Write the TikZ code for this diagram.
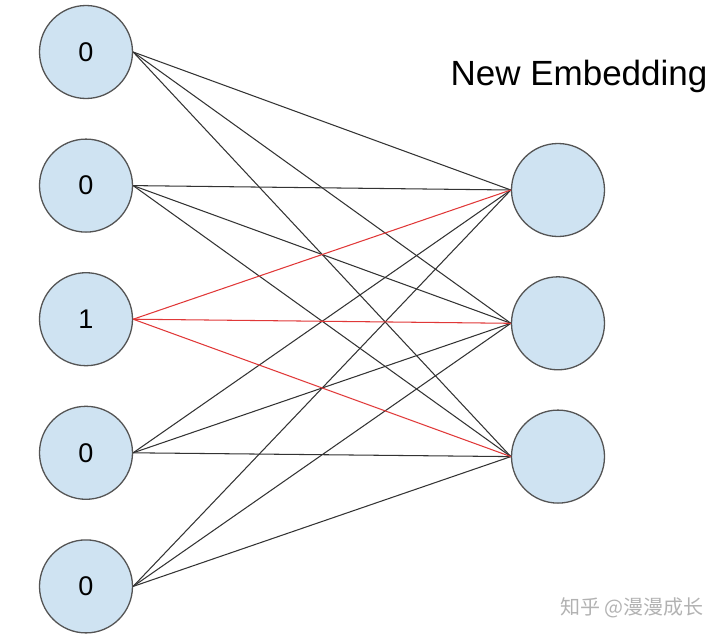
\documentclass[tikz,border=0pt]{standalone}
\usepackage{fontspec}
\setmainfont{Liberation Sans}
\newfontfamily\cjk{Noto Sans CJK SC}
\usetikzlibrary{positioning}
\definecolor{pastelblue}{rgb}{0.81,0.89,0.95}
\definecolor{bordegris}{rgb}{0.33,0.33,0.33}
\definecolor{rojo}{rgb}{0.88,0.22,0.22}
\tikzset{
  neurona/.style={
    circle,
    draw=bordegris,
    line width=1.3pt,
    fill=pastelblue,
    minimum size=93pt,
    inner sep=0pt,
    font=\fontsize{27}{30}\selectfont
  },
  enlace/.style={
    line width=1.05pt,
    black!80
  },
  activo/.style={
    line width=1.05pt,
    rojo
  }
}

\begin{document}
\begin{tikzpicture}[x=1pt,y=-1pt,node distance=39.3pt]
\useasboundingbox (0,0) rectangle (720,637);
% entrada one-hot
\node[neurona] (a) at (86,52) {0};
\node[neurona,below=of a] (b) {0};
\node[neurona,below=of b] (c) {1};
\node[neurona,below=of c] (d) {0};
\node[neurona,below=of d] (e) {0};
% embedding
\node[neurona] (p) at (558,190) {};
\node[neurona,below=39pt of p] (q) {};
\node[neurona,below=39pt of q] (r) {};
\node[anchor=base,font=\fontsize{35}{38}\selectfont] (titulo) at (579,85) {New Embedding};
\node[anchor=base,text=black!30,font=\cjk\fontsize{20}{24}\selectfont] (marca) at (632,614) {知乎 @漫漫成长};
\draw[enlace] (a.east) -- (p.west);
\draw[enlace] (a.east) -- (q.west);
\draw[enlace] (a.east) -- (r.west);
\draw[enlace] (b.east) -- (p.west);
\draw[enlace] (b.east) -- (q.west);
\draw[enlace] (b.east) -- (r.west);
\draw[enlace] (d.east) -- (p.west);
\draw[enlace] (d.east) -- (q.west);
\draw[enlace] (d.east) -- (r.west);
\draw[enlace] (e.east) -- (p.west);
\draw[enlace] (e.east) -- (q.west);
\draw[enlace] (e.east) -- (r.west);
\draw[activo] (c.east) -- (p.west);
\draw[activo] (c.east) -- (q.west);
\draw[activo] (c.east) -- (r.west);
\end{tikzpicture}
\end{document}
